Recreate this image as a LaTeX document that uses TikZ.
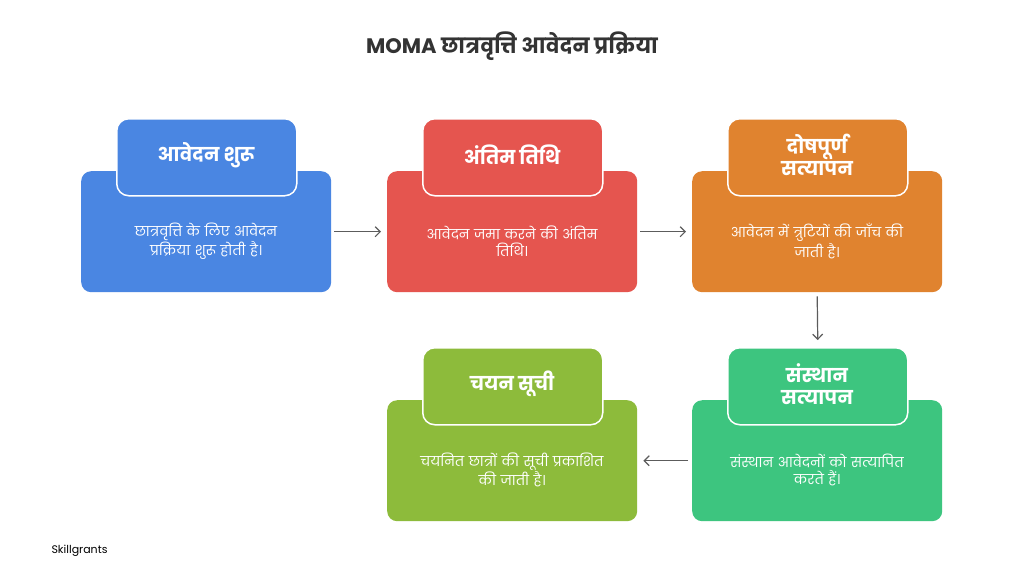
\documentclass[tikz,border=0pt]{standalone}
\usepackage{fontspec}
\setmainfont[Script=Devanagari]{Poppins}
\newfontfamily\latinf{Poppins}
\usetikzlibrary{arrows.meta}
\definecolor{cblue}{HTML}{4A86E2}
\definecolor{cred}{HTML}{E5554F}
\definecolor{corange}{HTML}{E0832F}
\definecolor{cgreen}{HTML}{3DC57F}
\definecolor{colive}{HTML}{8DBB3B}
\definecolor{ctxt}{HTML}{333333}
\begin{document}
\begin{tikzpicture}[x=1pt,y=-1pt,
  body/.style={rounded corners=10pt,minimum width=250pt,minimum height=121pt,anchor=north west,inner sep=0pt},
  tab/.style={rounded corners=12pt,draw=white,line width=1.5pt,minimum width=180pt,minimum height=77pt,anchor=north west,inner sep=0pt},
  lab/.style={text=white,font=\bfseries\fontsize{19}{22}\selectfont,align=center},
  desc/.style={text=white,font=\fontsize{13.5}{17}\selectfont,align=center,text width=215pt},
  conn/.style={draw=ctxt!80,line width=1.2pt,-{Straight Barb[length=5pt,width=10pt]}}]
\useasboundingbox (0,0) rectangle (1024,576);
\fill[white] (0,0) rectangle (1024,576);
\node[text=ctxt,font=\bfseries\fontsize{21}{24}\selectfont] (title) at (512,46) {MOMA छात्रवृत्ति आवेदन प्रक्रिया};
\foreach \n/\x/\y/\c in {a/81/171/cblue,b/387/171/cred,c/692/171/corange,d/692/400/cgreen,e/387/400/colive}{
  \node[body,fill=\c] (\n) at (\x,\y) {};
}
\node[tab,fill=cblue] (ta) at (116,118) {};
\node[tab,fill=cred] (tb) at (422,118) {};
\node[tab,fill=corange] (tc) at (727,118) {};
\node[tab,fill=cgreen] (td) at (727,347) {};
\node[tab,fill=colive] (te) at (422,347) {};
\node[lab] (la) at (206,155) {आवेदन शुरू};
\node[lab] (lb) at (512,155) {अंतिम तिथि};
\node[lab] (lc) at (817,155) {दोषपूर्ण\\सत्यापन};
\node[lab] (ld) at (817,384) {संस्थान\\सत्यापन};
\node[lab] (le) at (512,384) {चयन सूची};
\node[desc] (da) at (206,241) {छात्रवृत्ति के लिए आवेदन\\प्रक्रिया शुरू होती है।};
\node[desc] (db) at (512,241) {आवेदन जमा करने की अंतिम\\तिथि।};
\node[desc] (dc) at (817,241) {आवेदन में त्रुटियों की जाँच की\\जाती है।};
\node[desc] (dd) at (817,470) {संस्थान आवेदनों को सत्यापित\\करते हैं।};
\node[desc] (de) at (512,470) {चयनित छात्रों की सूची प्रकाशित\\की जाती है।};
\draw[conn] ([xshift=3pt]a.east) -- ([xshift=-6pt]b.west);
\draw[conn] ([xshift=3pt]b.east) -- ([xshift=-6pt]c.west);
\draw[conn] ([yshift=-4pt]c.south) -- ([yshift=7pt]td.north);
\draw[conn] ([xshift=-4pt]d.west) -- ([xshift=6pt]e.east);
\node[anchor=west,text=black,font=\latinf\fontsize{11}{13}\selectfont] (sk) at (48,551) {Skillgrants};
\end{tikzpicture}
\end{document}
